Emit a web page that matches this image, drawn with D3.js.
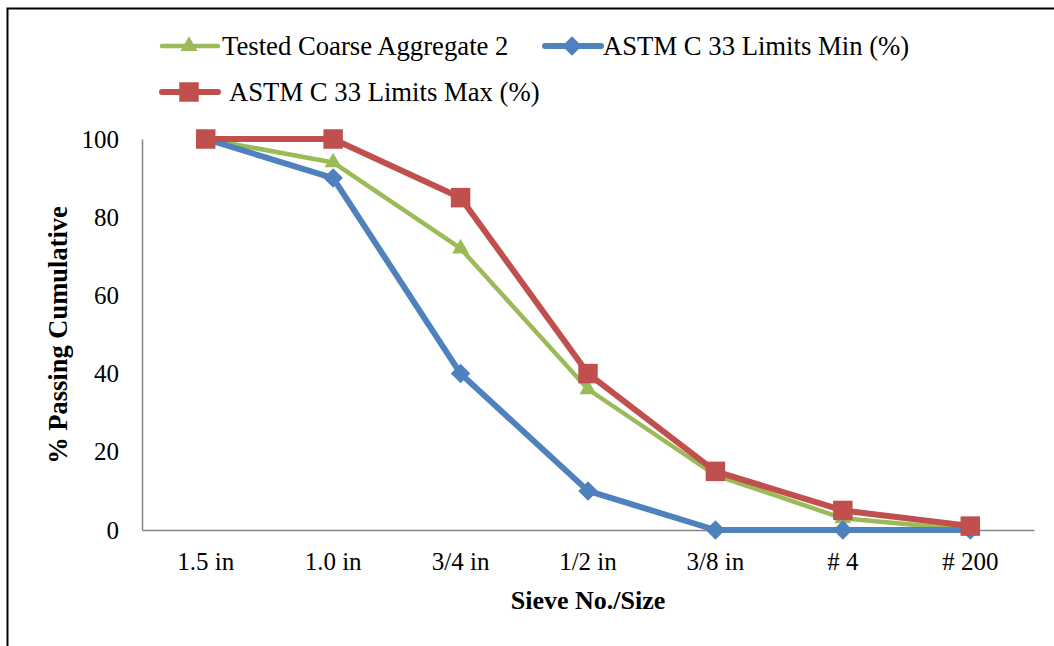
<!DOCTYPE html>
<html><head><meta charset="utf-8">
<script src="https://cdn.jsdelivr.net/npm/d3@7"></script>
<style>body{margin:0;background:#fff}svg{display:block}</style>
</head><body>
<svg id="c" width="1054" height="646"></svg>
<script>
const categories = ["1.5 in","1.0 in","3/4 in","1/2 in","3/8 in","# 4","# 200"];
const tested = [100, 94, 72, 36, 14, 3, 0];
const minLim = [100, 90, 40, 10, 0, 0, 0];
const maxLim = [100, 100, 85, 40, 15, 5, 1];
const yTicks = [0, 20, 40, 60, 80, 100];
const seriesNames = ["Tested Coarse Aggregate 2", "ASTM C 33 Limits Min (%)", "ASTM C 33 Limits Max (%)"];

const font = "'Liberation Serif','Times New Roman',serif";
const svg = d3.select("#c");
svg.append("rect").attr("x",7.5).attr("y",8.5).attr("width",1100).attr("height",700)
  .attr("fill","#fff").attr("stroke","#000").attr("stroke-width",2);

const x = d3.scaleBand().domain(categories).range([142,1034]);
const y = d3.scaleLinear().domain([0,100]).range([530,139]);

// axes
const yAx = svg.append("g").attr("transform","translate(142,0)")
  .call(d3.axisLeft(y).tickValues(yTicks).tickSize(0).tickPadding(23));
yAx.select(".domain").attr("stroke","#868686").attr("stroke-width",1.5);
yAx.selectAll("text").attr("font-family",font).attr("font-size",25).attr("fill","#000");

const xAx = svg.append("g").attr("transform","translate(0,530)")
  .call(d3.axisBottom(x).tickSize(0).tickPadding(22));
xAx.select(".domain").attr("stroke","#868686").attr("stroke-width",1.5);
xAx.selectAll("text").attr("font-family",font).attr("font-size",25).attr("fill","#000");

svg.append("text").attr("x",588).attr("y",609).attr("text-anchor","middle")
  .attr("font-family",font).attr("font-weight","bold").attr("font-size",26).text("Sieve No./Size");
svg.append("text").attr("transform","translate(67,335) rotate(-90)").attr("text-anchor","middle")
  .attr("font-family",font).attr("font-weight","bold").attr("font-size",26.5).text("% Passing Cumulative");

const cx = (d,i)=> x(categories[i]) + x.bandwidth()/2;
const line = d3.line().x((d,i)=>cx(d,i)).y(d=>y(d));

const series = [
  {name:seriesNames[0], data:tested, color:"#9bbb59", w:4.5, sym:d3.symbolTriangle, size:125, rot:0},
  {name:seriesNames[1], data:minLim, color:"#4f81bd", w:6, sym:d3.symbolSquare, size:190, rot:45},
  {name:seriesNames[2], data:maxLim, color:"#c0504d", w:6, sym:d3.symbolSquare, size:380, rot:0}
];

series.forEach(s=>{
  svg.append("path").datum(s.data).attr("d",line).attr("fill","none")
    .attr("stroke",s.color).attr("stroke-width",s.w).attr("stroke-linejoin","round");
  svg.append("g").selectAll("path").data(s.data).join("path")
    .attr("transform",(d,i)=>`translate(${cx(d,i)},${y(d)}) rotate(${s.rot})`)
    .attr("d",d3.symbol().type(s.sym).size(s.size)).attr("fill",s.color);
});

// legend
const leg = [
  {s:series[0], x:162, y:46, tx:222},
  {s:series[1], x:545, y:46, tx:603},
  {s:series[2], x:162, y:92, tx:229}
];
leg.forEach(l=>{
  svg.append("line").attr("x1",l.x).attr("x2",l.x+56).attr("y1",l.y).attr("y2",l.y)
    .attr("stroke",l.s.color).attr("stroke-width",l.s.w).attr("stroke-linecap","round");
  svg.append("path").attr("transform",`translate(${l.x+27},${l.y}) rotate(${l.s.rot})`)
    .attr("d",d3.symbol().type(l.s.sym).size(l.s.size)).attr("fill",l.s.color);
  svg.append("text").attr("x",l.tx).attr("y",l.y+9).attr("font-family",font).attr("font-size",26.7)
    .attr("fill","#000").text(l.s.name);
});
</script>
</body></html>
